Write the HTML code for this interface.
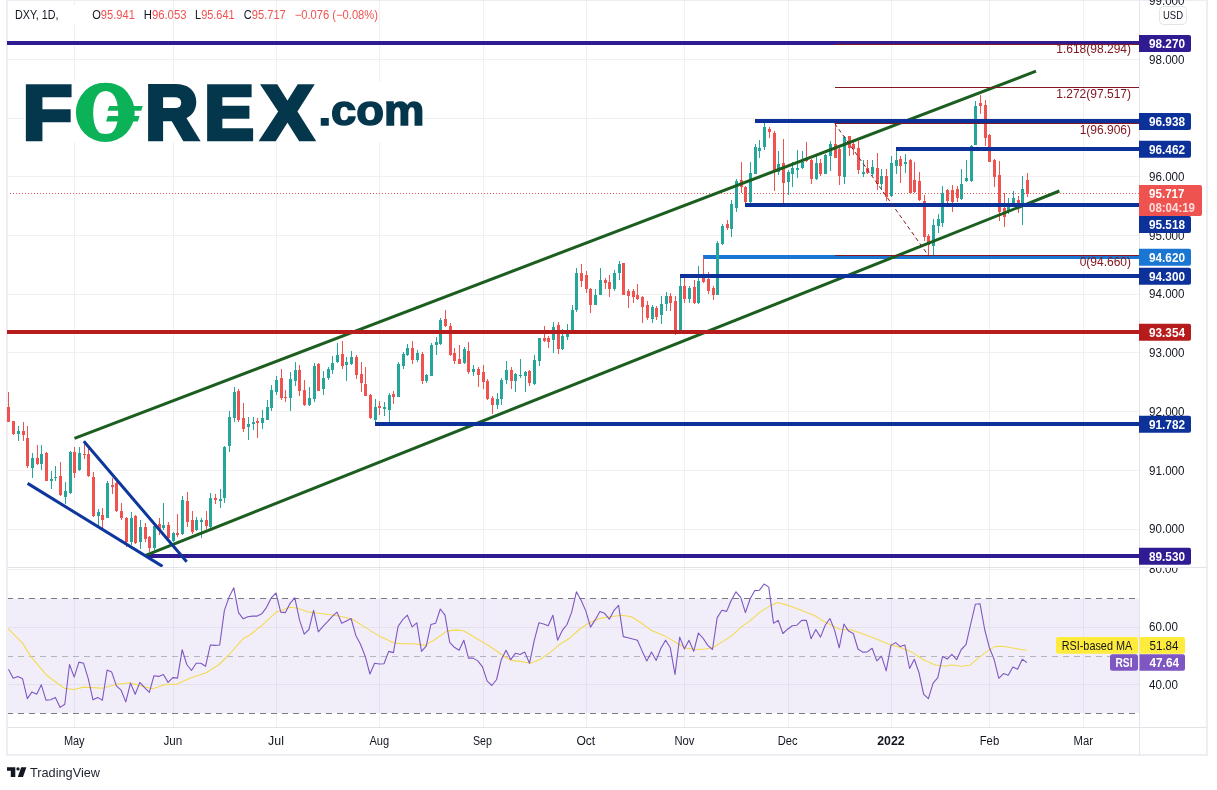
<!DOCTYPE html>
<html lang="en"><head><meta charset="utf-8"><title>DXY 1D chart</title>
<style>html,body{margin:0;padding:0;background:#fff}body{width:1217px;height:790px;overflow:hidden}svg{display:block}</style>
</head><body>
<svg width="1217" height="790" viewBox="0 0 1217 790" font-family='"Liberation Sans", sans-serif' font-size="12">
<rect width="1217" height="790" fill="#fff"/>
<g fill="#f0f0f2" shape-rendering="crispEdges">
<rect x="74" y="1" width="1" height="726"/>
<rect x="173" y="1" width="1" height="726"/>
<rect x="276" y="1" width="1" height="726"/>
<rect x="379" y="1" width="1" height="726"/>
<rect x="483" y="1" width="1" height="726"/>
<rect x="586" y="1" width="1" height="726"/>
<rect x="684" y="1" width="1" height="726"/>
<rect x="788" y="1" width="1" height="726"/>
<rect x="891" y="1" width="1" height="726"/>
<rect x="989" y="1" width="1" height="726"/>
<rect x="1083" y="1" width="1" height="726"/>
<rect x="7" y="59" width="1132" height="1"/>
<rect x="7" y="118" width="1132" height="1"/>
<rect x="7" y="176" width="1132" height="1"/>
<rect x="7" y="235" width="1132" height="1"/>
<rect x="7" y="294" width="1132" height="1"/>
<rect x="7" y="352" width="1132" height="1"/>
<rect x="7" y="411" width="1132" height="1"/>
<rect x="7" y="470" width="1132" height="1"/>
<rect x="7" y="529" width="1132" height="1"/>
</g>
<g fill="#f0f0f2" shape-rendering="crispEdges">
<rect x="7" y="569" width="1132" height="1"/>
<rect x="7" y="627" width="1132" height="1"/>
<rect x="7" y="684" width="1132" height="1"/>
</g>
<rect x="7" y="598.5" width="1132" height="114.5" fill="#7e57c2" fill-opacity="0.1"/>
<g stroke-width="1" fill="none" shape-rendering="crispEdges">
<path d="M7 598.5H1139M7 713.5H1139" stroke="#787b86" stroke-dasharray="6 5"/>
<path d="M7 656.5H1139" stroke="#b2b5be" stroke-dasharray="6 5"/>
</g>
<defs><clipPath id="mp"><rect x="7" y="1" width="1132" height="566"/></clipPath><clipPath id="rp"><rect x="7" y="568" width="1132" height="159"/></clipPath></defs>
<g clip-path="url(#rp)" fill="none" stroke-linejoin="round">
<polyline points="7.1,627.6 22.6,643.1 31.0,656.6 46.5,675.2 64.3,688.3 73.9,689.5 83.4,687.1 92.9,687.6 102.5,688.3 116.8,684.3 129.9,682.8 140.6,685.9 152.5,688.8 166.8,684.3 176.3,684.3 190.6,678.1 206.1,672.8 219.2,664.5 228.7,655.0 238.3,644.2 243.0,638.8 250.2,634.7 262.1,625.2 276.4,612.1 280.0,610.9 289.5,607.3 296.7,608.0 308.6,612.1 322.9,613.7 337.2,615.7 351.5,618.8 365.8,627.6 380.1,636.6 394.4,643.1 403.9,643.8 413.4,643.8 425.3,645.4 434.9,639.5 446.8,631.1 456.3,629.9 463.5,630.7 475.4,637.8 489.7,646.2 504.0,656.2 511.1,660.4 520.6,661.4 530.2,663.3 539.7,659.7 551.6,651.4 560.0,644.2 569.5,638.3 579.1,629.5 588.6,623.3 599.3,618.5 610.0,616.8 621.9,615.2 631.5,616.8 641.0,622.8 650.5,629.9 664.8,635.9 676.8,643.1 686.3,648.3 695.8,649.5 705.3,649.0 713.7,647.3 722.0,641.9 731.6,635.9 741.1,627.1 750.6,620.4 760.1,612.1 769.7,606.1 778.0,602.5 788.7,605.6 803.0,610.9 814.9,615.7 822.1,620.4 834.0,626.4 840.0,629.2 851.9,629.9 863.8,634.2 875.7,638.8 887.7,643.8 899.6,647.3 911.5,651.9 923.4,659.7 935.3,665.0 944.8,666.2 952.0,665.0 961.5,666.2 969.9,665.2 978.2,658.1 987.7,650.9 994.9,646.6 1003.2,646.2 1011.6,647.8 1021.1,649.5 1027.0,650.2" stroke="#f4da52" stroke-width="1.1"/>
<polyline points="8.5,669.3 13.2,678.3 17.9,676.4 22.6,678.8 27.3,698.6 32.0,691.9 36.7,694.3 41.3,684.8 46.0,700.2 50.7,699.8 55.4,697.4 60.1,707.4 64.8,704.3 69.5,664.5 74.2,677.1 78.9,662.1 83.6,663.3 88.3,678.8 93.0,699.8 97.7,697.4 102.4,700.2 107.1,670.0 111.7,672.1 116.4,685.9 121.1,690.2 125.8,701.9 130.5,683.1 135.2,694.3 139.9,682.4 144.6,687.6 149.3,692.4 154.0,675.7 158.7,676.4 163.4,674.5 168.1,682.4 172.8,677.6 177.5,678.1 182.2,649.7 186.8,664.5 191.5,670.5 196.2,663.3 200.9,663.3 205.6,666.2 210.3,645.0 215.0,645.4 219.7,645.0 224.4,610.4 229.1,597.1 233.8,587.8 238.5,612.6 243.2,618.8 247.9,616.8 252.6,616.1 257.2,616.1 261.9,613.7 266.6,607.3 271.3,597.8 276.0,593.0 280.7,612.1 285.4,612.6 290.1,603.3 294.8,597.8 299.5,619.9 304.2,634.2 308.9,629.5 313.6,610.4 318.3,631.9 323.0,626.4 327.6,621.6 332.3,616.4 337.0,612.1 341.7,623.3 346.4,620.9 351.1,618.5 355.8,635.4 360.5,644.2 365.2,656.2 369.9,674.0 374.6,663.3 379.3,664.0 384.0,663.8 388.7,651.4 393.4,652.6 398.1,626.4 402.7,619.7 407.4,615.2 412.1,626.9 416.8,622.8 421.5,651.4 426.2,646.2 430.9,624.5 435.6,623.3 440.3,609.0 445.0,615.2 449.7,642.3 454.4,647.3 459.1,650.2 463.8,640.2 468.5,658.1 473.1,658.1 477.8,660.9 482.5,666.9 487.2,681.2 491.9,685.5 496.6,679.5 501.3,659.7 506.0,650.2 510.7,659.7 515.4,653.3 520.1,654.5 524.8,652.1 529.5,663.3 534.2,640.7 538.9,622.8 543.6,624.0 548.2,625.7 552.9,615.2 557.6,640.2 562.3,630.4 567.0,624.5 571.7,612.1 576.4,591.8 581.1,600.2 585.8,610.9 590.5,627.1 595.2,619.9 599.9,611.6 604.6,613.3 609.3,619.2 614.0,610.4 618.6,605.4 623.3,636.6 628.0,637.8 632.7,639.0 637.4,640.2 642.1,650.9 646.8,660.9 651.5,652.1 656.2,660.4 660.9,648.3 665.6,640.2 670.3,647.8 675.0,674.5 679.7,637.1 684.4,649.0 689.0,640.2 693.7,651.4 698.4,633.0 703.1,638.3 707.8,645.4 712.5,649.5 717.2,617.6 721.9,610.2 726.6,611.4 731.3,600.2 736.0,591.8 740.7,597.3 745.4,612.6 750.1,599.0 754.8,590.6 759.5,590.2 764.1,584.0 768.8,587.1 773.5,623.3 778.2,620.4 782.9,633.5 787.6,629.2 792.3,625.7 797.0,625.2 801.7,620.4 806.4,620.4 811.1,638.8 815.8,629.5 820.5,637.1 825.2,625.2 829.9,618.5 834.5,629.9 839.2,647.8 843.9,624.0 848.6,631.1 853.3,633.5 858.0,649.0 862.7,652.1 867.4,651.9 872.1,648.3 876.8,660.9 881.5,656.2 886.2,670.9 890.9,645.4 895.6,642.6 900.3,646.6 904.9,645.0 909.6,668.5 914.3,659.3 919.0,672.8 923.7,694.3 928.4,698.6 933.1,683.1 937.8,677.6 942.5,656.6 947.2,659.0 951.9,654.3 956.6,659.7 961.3,649.5 966.0,644.7 970.7,624.0 975.4,604.2 980.0,603.7 984.7,629.5 989.4,647.8 994.1,659.3 998.8,678.3 1003.5,673.6 1008.2,675.2 1012.9,666.9 1017.6,669.3 1022.3,659.3 1027.0,662.6" stroke="#7e57c2" stroke-width="1.1"/>
</g>
<path d="M7 193.5H1139" stroke="#ef5350" stroke-width="1" stroke-dasharray="1 2" shape-rendering="crispEdges"/>
<rect x="7" y="0" width="1200" height="755" fill="none" stroke="#eceef4" stroke-width="2"/>
<rect x="703" y="255" width="436" height="4" fill="#1976d2" shape-rendering="crispEdges"/>
<g clip-path="url(#mp)" shape-rendering="crispEdges">
<path fill="#26a69a" d="M18 426h1v15h-1zM17 431h3v3h-3zM32 453h1v25h-1zM31 458h3v10h-3zM41 445h1v25h-1zM40 454h3v10h-3zM51 471h1v18h-1zM50 479h3v2h-3zM55 466h1v15h-1zM54 477h3v1h-3zM65 482h1v22h-1zM64 491h3v6h-3zM70 451h1v43h-1zM69 452h3v41h-3zM79 447h1v24h-1zM78 453h3v17h-3zM98 509h1v17h-1zM97 512h3v4h-3zM107 481h1v37h-1zM106 483h3v35h-3zM131 512h1v33h-1zM130 518h3v24h-3zM140 520h1v29h-1zM139 527h3v15h-3zM154 525h1v25h-1zM153 526h3v22h-3zM163 503h1v27h-1zM162 525h3v3h-3zM173 532h1v10h-1zM172 533h3v8h-3zM182 496h1v39h-1zM181 500h3v34h-3zM196 517h1v14h-1zM195 520h3v10h-3zM201 518h1v20h-1zM200 520h3v2h-3zM210 493h1v35h-1zM209 498h3v29h-3zM220 489h1v19h-1zM219 499h3v2h-3zM224 446h1v57h-1zM223 447h3v51h-3zM229 411h1v41h-1zM228 417h3v29h-3zM234 387h1v35h-1zM233 392h3v26h-3zM248 417h1v23h-1zM247 424h3v3h-3zM253 417h1v13h-1zM252 422h3v2h-3zM262 410h1v19h-1zM261 418h3v5h-3zM267 400h1v20h-1zM266 407h3v13h-3zM271 385h1v26h-1zM270 390h3v18h-3zM276 376h1v19h-1zM275 380h3v12h-3zM290 372h1v39h-1zM289 379h3v19h-3zM295 362h1v24h-1zM294 370h3v11h-3zM309 387h1v19h-1zM308 398h3v7h-3zM314 363h1v39h-1zM313 366h3v33h-3zM323 371h1v24h-1zM322 378h3v11h-3zM328 367h1v13h-1zM327 369h3v9h-3zM332 356h1v18h-1zM331 363h3v7h-3zM337 343h1v20h-1zM336 355h3v7h-3zM346 357h1v24h-1zM345 362h3v3h-3zM351 351h1v14h-1zM350 357h3v7h-3zM375 399h1v23h-1zM374 407h3v13h-3zM384 402h1v14h-1zM383 407h3v2h-3zM389 393h1v29h-1zM388 395h3v15h-3zM398 362h1v35h-1zM397 364h3v33h-3zM403 352h1v17h-1zM402 354h3v12h-3zM407 344h1v12h-1zM406 348h3v7h-3zM417 350h1v12h-1zM416 353h3v7h-3zM426 374h1v9h-1zM425 375h3v6h-3zM431 343h1v33h-1zM430 345h3v31h-3zM436 337h1v18h-1zM435 342h3v3h-3zM440 318h1v27h-1zM439 320h3v24h-3zM464 347h1v17h-1zM463 349h3v14h-3zM473 365h1v11h-1zM472 369h3v3h-3zM497 393h1v16h-1zM496 399h3v6h-3zM501 378h1v27h-1zM500 380h3v19h-3zM506 361h1v23h-1zM505 370h3v10h-3zM515 373h1v19h-1zM514 374h3v7h-3zM520 359h1v19h-1zM519 375h3v1h-3zM525 371h1v21h-1zM524 372h3v4h-3zM534 355h1v30h-1zM533 360h3v24h-3zM539 338h1v28h-1zM538 338h3v23h-3zM553 322h1v31h-1zM552 327h3v13h-3zM562 329h1v21h-1zM561 336h3v13h-3zM567 324h1v16h-1zM566 330h3v7h-3zM572 305h1v25h-1zM571 310h3v20h-3zM576 268h1v44h-1zM575 273h3v37h-3zM595 289h1v16h-1zM594 295h3v10h-3zM600 268h1v27h-1zM599 280h3v15h-3zM614 270h1v21h-1zM613 273h3v16h-3zM619 261h1v19h-1zM618 264h3v9h-3zM652 305h1v18h-1zM651 307h3v12h-3zM661 296h1v28h-1zM660 304h3v11h-3zM666 292h1v19h-1zM665 296h3v8h-3zM680 276h1v55h-1zM679 286h3v45h-3zM689 286h1v17h-1zM688 288h3v11h-3zM698 266h1v38h-1zM697 281h3v22h-3zM717 241h1v54h-1zM716 243h3v52h-3zM722 224h1v21h-1zM721 226h3v18h-3zM731 200h1v37h-1zM730 204h3v25h-3zM736 179h1v33h-1zM735 181h3v27h-3zM750 162h1v41h-1zM749 173h3v29h-3zM755 144h1v30h-1zM754 147h3v27h-3zM759 140h1v18h-1zM758 148h3v3h-3zM764 123h1v27h-1zM763 127h3v20h-3zM778 151h1v24h-1zM777 164h3v8h-3zM788 170h1v25h-1zM787 172h3v10h-3zM792 162h1v25h-1zM791 168h3v6h-3zM797 150h1v28h-1zM796 168h3v2h-3zM802 151h1v18h-1zM801 162h3v6h-3zM816 156h1v24h-1zM815 163h3v16h-3zM825 154h1v20h-1zM824 155h3v19h-3zM830 141h1v30h-1zM829 144h3v12h-3zM844 136h1v48h-1zM843 137h3v40h-3zM863 160h1v17h-1zM862 172h3v2h-3zM872 160h1v16h-1zM871 167h3v7h-3zM881 169h1v21h-1zM880 176h3v8h-3zM891 156h1v41h-1zM890 163h3v33h-3zM896 150h1v24h-1zM895 160h3v6h-3zM905 154h1v19h-1zM904 162h3v2h-3zM933 219h1v37h-1zM932 225h3v21h-3zM938 214h1v19h-1zM937 219h3v7h-3zM942 186h1v41h-1zM941 193h3v30h-3zM961 169h1v31h-1zM960 184h3v15h-3zM966 160h1v22h-1zM965 178h3v3h-3zM971 145h1v37h-1zM970 146h3v35h-3zM975 101h1v44h-1zM974 106h3v39h-3zM1008 198h1v16h-1zM1007 205h3v6h-3zM1013 191h1v15h-1zM1012 198h3v7h-3zM1022 176h1v49h-1zM1021 189h3v17h-3z"/>
<path fill="#ef5350" d="M8 392h1v30h-1zM7 407h3v15h-3zM13 421h1v14h-1zM12 421h3v13h-3zM23 422h1v19h-1zM22 431h3v4h-3zM27 426h1v42h-1zM26 438h3v28h-3zM37 445h1v20h-1zM36 458h3v6h-3zM46 452h1v29h-1zM45 453h3v28h-3zM60 462h1v34h-1zM59 476h3v19h-3zM74 447h1v31h-1zM73 452h3v21h-3zM84 444h1v15h-1zM83 454h3v1h-3zM88 448h1v29h-1zM87 454h3v22h-3zM93 472h1v45h-1zM92 477h3v39h-3zM102 508h1v20h-1zM101 515h3v5h-3zM112 478h1v16h-1zM111 485h3v2h-3zM116 482h1v30h-1zM115 483h3v28h-3zM121 503h1v17h-1zM120 511h3v7h-3zM126 517h1v30h-1zM125 518h3v24h-3zM135 515h1v29h-1zM134 516h3v27h-3zM145 523h1v19h-1zM144 527h3v12h-3zM149 536h1v16h-1zM148 537h3v11h-3zM159 518h1v17h-1zM158 524h3v5h-3zM168 522h1v18h-1zM167 525h3v13h-3zM177 514h1v23h-1zM176 533h3v2h-3zM187 492h1v35h-1zM186 501h3v21h-3zM192 511h1v23h-1zM191 520h3v12h-3zM206 511h1v18h-1zM205 520h3v6h-3zM215 494h1v10h-1zM214 498h3v2h-3zM238 389h1v33h-1zM237 391h3v29h-3zM243 403h1v29h-1zM242 418h3v11h-3zM257 418h1v20h-1zM256 421h3v2h-3zM281 369h1v31h-1zM280 378h3v20h-3zM285 390h1v12h-1zM284 397h3v1h-3zM299 365h1v31h-1zM298 370h3v21h-3zM304 380h1v26h-1zM303 390h3v15h-3zM318 363h1v28h-1zM317 364h3v27h-3zM342 341h1v28h-1zM341 354h3v12h-3zM356 355h1v24h-1zM355 357h3v18h-3zM361 362h1v30h-1zM360 374h3v9h-3zM365 367h1v29h-1zM364 384h3v12h-3zM370 394h1v25h-1zM369 395h3v23h-3zM379 401h1v14h-1zM378 406h3v2h-3zM393 391h1v13h-1zM392 394h3v3h-3zM412 341h1v23h-1zM411 348h3v12h-3zM422 352h1v32h-1zM421 354h3v27h-3zM445 310h1v17h-1zM444 319h3v7h-3zM450 323h1v33h-1zM449 326h3v29h-3zM454 348h1v16h-1zM453 353h3v8h-3zM459 345h1v19h-1zM458 359h3v5h-3zM468 342h1v32h-1zM467 351h3v21h-3zM478 367h1v20h-1zM477 369h3v6h-3zM483 365h1v24h-1zM482 372h3v10h-3zM487 379h1v21h-1zM486 381h3v18h-3zM492 396h1v18h-1zM491 398h3v7h-3zM511 367h1v22h-1zM510 370h3v11h-3zM529 370h1v16h-1zM528 371h3v12h-3zM544 326h1v16h-1zM543 338h3v3h-3zM548 336h1v12h-1zM547 338h3v4h-3zM558 322h1v32h-1zM557 325h3v24h-3zM581 264h1v23h-1zM580 273h3v8h-3zM586 271h1v22h-1zM585 275h3v14h-3zM590 288h1v25h-1zM589 289h3v16h-3zM605 278h1v11h-1zM604 280h3v3h-3zM609 275h1v22h-1zM608 282h3v7h-3zM623 263h1v32h-1zM622 263h3v32h-3zM628 289h1v19h-1zM627 291h3v5h-3zM633 289h1v14h-1zM632 291h3v6h-3zM637 284h1v16h-1zM636 295h3v4h-3zM642 296h1v27h-1zM641 297h3v10h-3zM647 301h1v19h-1zM646 305h3v13h-3zM656 306h1v14h-1zM655 308h3v9h-3zM670 293h1v18h-1zM669 296h3v7h-3zM675 296h1v39h-1zM674 301h3v31h-3zM684 278h1v25h-1zM683 286h3v13h-3zM694 280h1v24h-1zM693 287h3v16h-3zM703 257h1v26h-1zM702 278h3v4h-3zM708 272h1v22h-1zM707 279h3v12h-3zM713 286h1v14h-1zM712 288h3v7h-3zM727 220h1v10h-1zM726 224h3v4h-3zM741 162h1v31h-1zM740 180h3v7h-3zM745 186h1v18h-1zM744 187h3v15h-3zM769 127h1v11h-1zM768 129h3v3h-3zM774 131h1v60h-1zM773 133h3v39h-3zM783 139h1v64h-1zM782 163h3v20h-3zM806 142h1v20h-1zM805 159h3v2h-3zM811 159h1v25h-1zM810 160h3v19h-3zM820 159h1v17h-1zM819 163h3v11h-3zM835 123h1v35h-1zM834 144h3v14h-3zM839 148h1v37h-1zM838 149h3v27h-3zM849 136h1v20h-1zM848 136h3v12h-3zM853 140h1v15h-1zM852 144h3v5h-3zM858 141h1v33h-1zM857 148h3v22h-3zM867 160h1v14h-1zM866 168h3v5h-3zM877 153h1v37h-1zM876 168h3v16h-3zM886 169h1v32h-1zM885 176h3v21h-3zM900 156h1v27h-1zM899 159h3v7h-3zM910 159h1v34h-1zM909 160h3v33h-3zM914 162h1v31h-1zM913 180h3v12h-3zM919 172h1v29h-1zM918 181h3v19h-3zM924 195h1v46h-1zM923 201h3v36h-3zM928 234h1v21h-1zM927 236h3v9h-3zM947 189h1v15h-1zM946 190h3v11h-3zM952 185h1v27h-1zM951 190h3v12h-3zM957 186h1v16h-1zM956 189h3v9h-3zM980 95h1v19h-1zM979 103h3v3h-3zM985 100h1v46h-1zM984 105h3v33h-3zM989 134h1v28h-1zM988 135h3v27h-3zM994 159h1v28h-1zM993 160h3v17h-3zM999 161h1v60h-1zM998 175h3v37h-3zM1004 193h1v34h-1zM1003 208h3v9h-3zM1018 196h1v17h-1zM1017 200h3v5h-3zM1027 173h1v24h-1zM1026 180h3v14h-3z"/>
</g>
<g clip-path="url(#mp)" fill="none">
<rect x="148" y="554.0" width="991" height="4" fill="#311b92" shape-rendering="crispEdges"/>
<rect x="7" y="41.0" width="1132" height="4" fill="#311b92" shape-rendering="crispEdges"/>
<path d="M74.5 438.4L1036 71.2M145 555.6L1059.4 191" stroke="#1b5e20" stroke-width="3"/>
<rect x="755.3" y="119.0" width="383.70000000000005" height="4" fill="#0c3299" shape-rendering="crispEdges"/>
<rect x="896" y="147.0" width="243" height="4" fill="#0c3299" shape-rendering="crispEdges"/>
<rect x="745.2" y="203.0" width="393.79999999999995" height="4" fill="#0c3299" shape-rendering="crispEdges"/>
<rect x="680.2" y="274.0" width="458.79999999999995" height="4" fill="#0c3299" shape-rendering="crispEdges"/>
<rect x="375.3" y="422.0" width="763.7" height="4" fill="#0c3299" shape-rendering="crispEdges"/>
<rect x="7" y="330.0" width="1132" height="4" fill="#b71c1c" shape-rendering="crispEdges"/>
<path d="M835 44.5H1139M835 87.5H1139M835 123.5H1139M835 255.5H1139" stroke="#801922" stroke-width="1" shape-rendering="crispEdges"/>
<path d="M834.7 123.5L928 255" stroke="#801922" stroke-width="1" stroke-dasharray="4 3"/>
<path d="M83.8 441.2L186.7 561.8M27.6 483.4L162.5 566.4" stroke="#0d379c" stroke-width="3"/>
</g>
<g fill="#801922" text-anchor="end" font-size="12">
<text x="1131" y="53">1.618(98.294)</text>
<text x="1131" y="98">1.272(97.517)</text>
<text x="1131" y="134">1(96.906)</text>
<text x="1131" y="266">0(94.660)</text>
</g>
<g fill="#e3e4e9" shape-rendering="crispEdges">
<rect x="7" y="567" width="1200" height="1"/>
<rect x="7" y="727" width="1200" height="1"/>
<rect x="1139" y="1" width="1" height="754"/>
</g>
<g fill="#131722" font-size="12">
<text x="1149" y="4.8" textLength="35.5" lengthAdjust="spacingAndGlyphs">99.000</text>
<text x="1149" y="63.5" textLength="35.5" lengthAdjust="spacingAndGlyphs">98.000</text>
<text x="1149" y="181.0" textLength="35.5" lengthAdjust="spacingAndGlyphs">96.000</text>
<text x="1149" y="239.7" textLength="35.5" lengthAdjust="spacingAndGlyphs">95.000</text>
<text x="1149" y="298.4" textLength="35.5" lengthAdjust="spacingAndGlyphs">94.000</text>
<text x="1149" y="357.2" textLength="35.5" lengthAdjust="spacingAndGlyphs">93.000</text>
<text x="1149" y="415.9" textLength="35.5" lengthAdjust="spacingAndGlyphs">92.000</text>
<text x="1149" y="474.7" textLength="35.5" lengthAdjust="spacingAndGlyphs">91.000</text>
<text x="1149" y="533.4" textLength="35.5" lengthAdjust="spacingAndGlyphs">90.000</text>
<text x="1149" y="573.2" textLength="29" lengthAdjust="spacingAndGlyphs">80.00</text>
<text x="1149" y="631.0" textLength="29" lengthAdjust="spacingAndGlyphs">60.00</text>
<text x="1149" y="688.8000000000001" textLength="29" lengthAdjust="spacingAndGlyphs">40.00</text>
</g>
<rect x="1140" y="553" width="66" height="14" fill="#fff"/>
<rect x="1140" y="567" width="67" height="1" fill="#e3e4e9"/>
<rect x="1159.5" y="6.5" width="27" height="18" rx="4" fill="#fff" stroke="#e3e4e9"/>
<text x="1163" y="19.3" font-size="11.5" fill="#131722" textLength="20" lengthAdjust="spacingAndGlyphs">USD</text>
<path d="M1139 34.9H1189a2 2 0 0 1 2 2V49.9a2 2 0 0 1 -2 2H1139z" fill="#311b92"/>
<text x="1149" y="47.7" fill="#fff" font-weight="bold" textLength="36" lengthAdjust="spacingAndGlyphs">98.270</text>
<path d="M1139 113.1H1189a2 2 0 0 1 2 2V128.1a2 2 0 0 1 -2 2H1139z" fill="#0c3299"/>
<text x="1149" y="125.9" fill="#fff" font-weight="bold" textLength="36" lengthAdjust="spacingAndGlyphs">96.938</text>
<path d="M1139 140.7H1189a2 2 0 0 1 2 2V155.7a2 2 0 0 1 -2 2H1139z" fill="#0c3299"/>
<text x="1149" y="153.5" fill="#fff" font-weight="bold" textLength="36" lengthAdjust="spacingAndGlyphs">96.462</text>
<path d="M1139 185H1200a2 2 0 0 1 2 2V214a2 2 0 0 1 -2 2H1139z" fill="#ef5350"/>
<text x="1149" y="197.5" fill="#fff" font-weight="bold" textLength="35.5" lengthAdjust="spacingAndGlyphs">95.717</text>
<text x="1149" y="211.8" fill="#fff" fill-opacity="0.8" font-weight="bold" textLength="46" lengthAdjust="spacingAndGlyphs">08:04:19</text>
<path d="M1139 215.9H1189a2 2 0 0 1 2 2V230.9a2 2 0 0 1 -2 2H1139z" fill="#0c3299"/>
<text x="1149" y="228.7" fill="#fff" font-weight="bold" textLength="36" lengthAdjust="spacingAndGlyphs">95.518</text>
<path d="M1139 248.7H1189a2 2 0 0 1 2 2V263.7a2 2 0 0 1 -2 2H1139z" fill="#1976d2"/>
<text x="1149" y="261.5" fill="#fff" font-weight="bold" textLength="36" lengthAdjust="spacingAndGlyphs">94.620</text>
<path d="M1139 267.7H1189a2 2 0 0 1 2 2V282.7a2 2 0 0 1 -2 2H1139z" fill="#0c3299"/>
<text x="1149" y="280.5" fill="#fff" font-weight="bold" textLength="36" lengthAdjust="spacingAndGlyphs">94.300</text>
<path d="M1139 323.7H1189a2 2 0 0 1 2 2V338.7a2 2 0 0 1 -2 2H1139z" fill="#b71c1c"/>
<text x="1149" y="336.5" fill="#fff" font-weight="bold" textLength="36" lengthAdjust="spacingAndGlyphs">93.354</text>
<path d="M1139 415.7H1189a2 2 0 0 1 2 2V430.7a2 2 0 0 1 -2 2H1139z" fill="#0c3299"/>
<text x="1149" y="428.5" fill="#fff" font-weight="bold" textLength="36" lengthAdjust="spacingAndGlyphs">91.782</text>
<path d="M1139 547.8H1189a2 2 0 0 1 2 2V562.8a2 2 0 0 1 -2 2H1139z" fill="#311b92"/>
<text x="1149" y="560.6" fill="#fff" font-weight="bold" textLength="36" lengthAdjust="spacingAndGlyphs">89.530</text>
<rect x="1056" y="637" width="82" height="16.7" rx="2.5" fill="#ffeb3b"/>
<text x="1061.7" y="649.9" fill="#131722" textLength="70.5" lengthAdjust="spacingAndGlyphs">RSI-based MA</text>
<path d="M1139.5 637H1183a2 2 0 0 1 2 2V651.7a2 2 0 0 1 -2 2H1139.5z" fill="#ffeb3b"/>
<text x="1149.5" y="649.9" fill="#131722" textLength="29" lengthAdjust="spacingAndGlyphs">51.84</text>
<rect x="1110" y="654.3" width="28" height="16.5" rx="2.5" fill="#7e57c2"/>
<text x="1115.5" y="667" fill="#fff" font-weight="bold" textLength="17" lengthAdjust="spacingAndGlyphs">RSI</text>
<path d="M1139.5 654.3H1183a2 2 0 0 1 2 2V668.8a2 2 0 0 1 -2 2H1139.5z" fill="#7e57c2"/>
<text x="1149.5" y="667" fill="#fff" font-weight="bold" textLength="29.5" lengthAdjust="spacingAndGlyphs">47.64</text>
<g fill="#131722" font-size="12.3">
<text x="63.9" y="745.3" textLength="20.7" lengthAdjust="spacingAndGlyphs">May</text>
<text x="163.4" y="745.3" textLength="18.8" lengthAdjust="spacingAndGlyphs">Jun</text>
<text x="268.1" y="745.3" textLength="15.8" lengthAdjust="spacingAndGlyphs">Jul</text>
<text x="369.4" y="745.3" textLength="19.7" lengthAdjust="spacingAndGlyphs">Aug</text>
<text x="473.0" y="745.3" textLength="19.0" lengthAdjust="spacingAndGlyphs">Sep</text>
<text x="576.4" y="745.3" textLength="18.8" lengthAdjust="spacingAndGlyphs">Oct</text>
<text x="674.4" y="745.3" textLength="20.0" lengthAdjust="spacingAndGlyphs">Nov</text>
<text x="777.7" y="745.3" textLength="19.8" lengthAdjust="spacingAndGlyphs">Dec</text>
<text x="877.2" y="745.3" font-weight="bold" textLength="27.4" lengthAdjust="spacingAndGlyphs">2022</text>
<text x="979.7" y="745.3" textLength="19.5" lengthAdjust="spacingAndGlyphs">Feb</text>
<text x="1073.6" y="745.3" textLength="19.5" lengthAdjust="spacingAndGlyphs">Mar</text>
</g>
<rect x="10" y="5" width="78" height="20" fill="#fff"/>
<g font-size="12" fill="#131722">
<text x="15" y="19" textLength="43.5" lengthAdjust="spacingAndGlyphs">DXY, 1D,</text>
<text x="92.2" y="19" textLength="42.6" lengthAdjust="spacingAndGlyphs">O<tspan fill="#ef5350">95.941</tspan></text>
<text x="143.7" y="19" textLength="42.8" lengthAdjust="spacingAndGlyphs">H<tspan fill="#ef5350">96.053</tspan></text>
<text x="195.1" y="19" textLength="39.5" lengthAdjust="spacingAndGlyphs">L<tspan fill="#ef5350">95.641</tspan></text>
<text x="243.8" y="19" textLength="42.0" lengthAdjust="spacingAndGlyphs">C<tspan fill="#ef5350">95.717</tspan></text>
<text x="294.7" y="19" fill="#ef5350" textLength="83.3" lengthAdjust="spacingAndGlyphs">−0.076 (−0.08%)</text>
</g>
<g>
<title>FOREX.com</title>
<rect x="24" y="82" width="399.5" height="60" fill="#fff"/>
<g transform="translate(0 138.83) scale(1 1.0519)">
<text y="0" fill="#04364c" stroke="#04364c" stroke-width="4.5" stroke-linejoin="miter" font-weight="bold" font-size="72" lengthAdjust="spacingAndGlyphs"><tspan x="22.91" textLength="49.03" lengthAdjust="spacingAndGlyphs">F</tspan><tspan x="74.5" textLength="62.1" lengthAdjust="spacingAndGlyphs" font-size="76" font-weight="normal" fill="#0cb258" stroke="none">O</tspan><tspan x="145.58" textLength="52.48" lengthAdjust="spacingAndGlyphs">R</tspan><tspan x="204.54" textLength="49.19" lengthAdjust="spacingAndGlyphs">E</tspan><tspan x="262.37" textLength="50.38" lengthAdjust="spacingAndGlyphs">X</tspan><tspan x="318.53" y="-13.39" textLength="105.9" lengthAdjust="spacingAndGlyphs" font-size="39.6" stroke-width="1.45">.com</tspan></text>
</g>
<path fill="#0cb258" fill-rule="evenodd" d="M75.9 112.45a29.4 29.65 0 1 0 58.8 0a29.4 29.65 0 1 0 -58.8 0zM105.70 91.00C113.45 91.00 118.20 99.32 118.20 112.90C118.20 126.48 113.45 134.80 105.70 134.80C97.95 134.80 93.20 126.48 93.20 112.90C93.20 99.32 97.95 91.00 105.70 91.00z"/>
<path fill="#0cb258" d="M109.2 105.9H142.8l-1.7 4.9H107.5zM107.8 116.1H139.6l-1.8 5.3H106z"/>
</g>

<g fill="#131722">
<path d="M7 767.3H15.3V777H10.8V770.8H7z"/>
<circle cx="18" cy="768.9" r="1.65"/>
<path d="M21.2 767.3H26.4L23.0 777H17.8z"/>
<text x="30" y="777" font-size="13" fill="#1e222d" textLength="70" lengthAdjust="spacingAndGlyphs">TradingView</text>
</g>
</svg>
</body></html>
